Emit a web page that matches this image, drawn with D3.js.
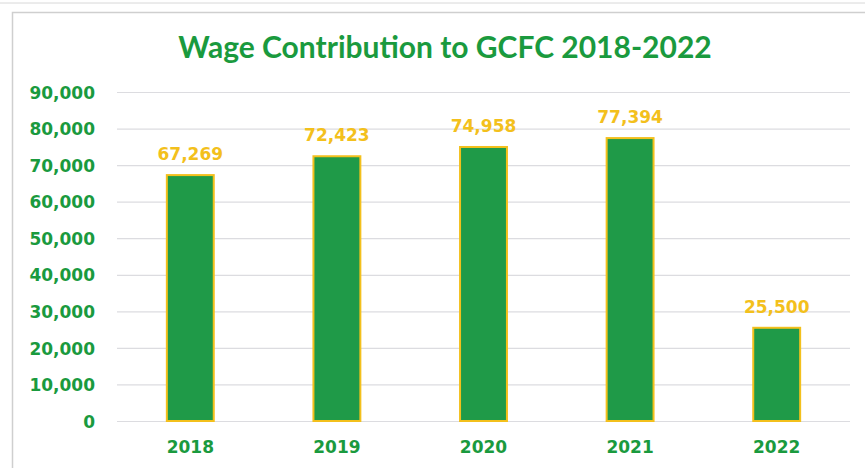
<!DOCTYPE html>
<html lang="en">
<head>
<meta charset="UTF-8">
<title>Wage Contribution to GCFC 2018-2022</title>
<style>
  body { margin: 0; background: #fff; }
  .tick text { font-family: "DejaVu Sans", sans-serif; font-weight: bold; }
</style>
</head>
<body>
<div id="chart"></div>
<script src="https://cdnjs.cloudflare.com/ajax/libs/d3/7.8.5/d3.min.js"></script>
<script>
const years = ["2018", "2019", "2020", "2021", "2022"];
const wages = [67269, 72423, 74958, 77394, 25500];
const yTicks = [0, 10000, 20000, 30000, 40000, 50000, 60000, 70000, 80000, 90000];

const W = 865, H = 468;
const green = "#1f9a48", yellow = "#f3c01c", textGreen = "#1a9a3e";

const svg = d3.select("#chart").append("svg")
  .attr("width", W).attr("height", H);

svg.append("rect").attr("width", W).attr("height", H).attr("fill", "#fff");
// page frames
svg.append("line").attr("x1", 0).attr("x2", W).attr("y1", 3).attr("y2", 3)
  .attr("stroke", "#d8d8d8").attr("stroke-width", 1);
svg.append("rect").attr("x", 12.5).attr("y", 12.5).attr("width", W).attr("height", H)
  .attr("fill", "none").attr("stroke", "#cfcfcf").attr("stroke-width", 1.5);

const plotLeft = 117, plotRight = 850, plotTop = 92, plotBottom = 421;

const x = d3.scaleBand().domain(years).range([plotLeft, plotRight]).paddingInner(0.68).paddingOuter(0.34);
const y = d3.scaleLinear().domain([0, 90000]).range([plotBottom, plotTop]);

// gridlines
svg.append("g").selectAll("line").data(yTicks).join("line")
  .attr("x1", plotLeft).attr("x2", plotRight)
  .attr("y1", d => y(d) + 0.5).attr("y2", d => y(d) + 0.5)
  .attr("stroke", "#dcdce0").attr("stroke-width", 1.2);

// y axis
const yAxis = svg.append("g").attr("transform", `translate(${plotLeft - 22},0)`)
  .call(d3.axisLeft(y).tickValues(yTicks).tickFormat(d3.format(",")).tickSize(0).tickPadding(0));
yAxis.select(".domain").remove();
yAxis.selectAll("text").attr("fill", textGreen).attr("font-size", 17).attr("dy", "0.36em");

// x axis
const xAxis = svg.append("g").attr("transform", `translate(0,${plotBottom})`)
  .call(d3.axisBottom(x).tickSize(0).tickPadding(20));
xAxis.select(".domain").remove();
xAxis.selectAll("text").attr("fill", textGreen).attr("font-size", 17);

// bars
svg.append("g").selectAll("rect").data(wages).join("rect")
  .attr("x", (d, i) => x(years[i]))
  .attr("y", d => y(d))
  .attr("width", x.bandwidth())
  .attr("height", d => plotBottom - y(d))
  .attr("fill", green)
  .attr("stroke", yellow).attr("stroke-width", 2);

// value labels
svg.append("g").selectAll("text").data(wages).join("text")
  .attr("x", (d, i) => x(years[i]) + x.bandwidth() / 2)
  .attr("y", d => y(d) - 15)
  .attr("text-anchor", "middle")
  .attr("font-family", "DejaVu Sans, sans-serif")
  .attr("font-weight", "bold")
  .attr("font-size", 17)
  .attr("fill", yellow)
  .text(d => d3.format(",")(d));

// title
svg.append("text")
  .attr("x", 445).attr("y", 58)
  .attr("text-anchor", "middle")
  .attr("font-family", "Lato, sans-serif")
  .attr("font-weight", "bold")
  .attr("font-size", 30)
  .attr("fill", textGreen)
  .text("Wage Contribution to GCFC 2018-2022");
</script>
</body>
</html>
